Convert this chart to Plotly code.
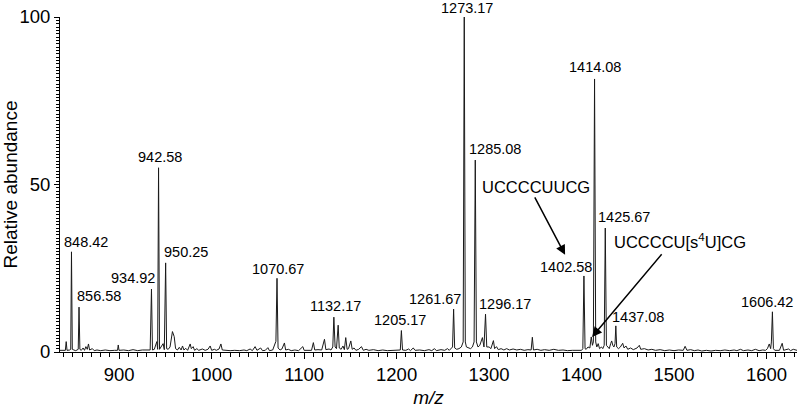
import plotly.graph_objects as go

# profile of the spectrum (m/z, relative abundance)
mz = [836, 840, 841.8, 842.7, 843.6, 846.5, 847.6, 848.42, 849.3, 851, 853, 855.7, 856.58, 857.5, 859,
      861, 862.5, 864, 865.5, 866.8, 868, 871, 873, 876, 880, 885, 890, 895, 898.2, 899, 899.8, 905,
      910, 915, 920, 925, 930, 933.5, 934.92, 936, 938, 940.7, 941.6, 942.58, 943.6, 947.5, 948.8,
      950.25, 951.3, 953, 955, 957.6, 959.5, 961, 963, 965, 967, 968.5, 970, 972, 974, 976.8, 978,
      980, 981.5, 984, 986, 990, 993, 996, 998.4, 1000, 1003, 1005, 1008, 1010, 1011.5, 1015, 1020,
      1025, 1030, 1035, 1038, 1041.6, 1044, 1047, 1049, 1053, 1055, 1058, 1060.8, 1062.5, 1066,
      1069.5, 1070.67, 1071.8, 1074, 1076, 1078.7, 1080, 1083, 1086, 1090, 1094, 1098.6, 1100, 1104,
      1108, 1110, 1111.5, 1115, 1119, 1122, 1123.5, 1127, 1129, 1131, 1132.17, 1133.5, 1135, 1136.8,
      1138, 1140, 1142, 1143.5, 1145, 1146.5, 1148, 1150.5, 1152, 1154, 1156, 1159, 1162, 1164, 1167,
      1170, 1175, 1180, 1185, 1190, 1195, 1200, 1204, 1205.17, 1206.4, 1210, 1213, 1215, 1218, 1220,
      1225, 1230, 1235, 1238, 1241, 1243, 1248, 1252, 1255, 1257, 1260.5, 1261.67, 1262.8, 1265,
      1267.5, 1270, 1272, 1273.17, 1274.3, 1275.5, 1278, 1280, 1282, 1283.8, 1285.08, 1286.3, 1288,
      1290, 1292.8, 1294.5, 1296.17, 1297.5, 1300, 1302, 1304.7, 1306, 1308, 1310, 1313, 1316, 1319,
      1322, 1326, 1330, 1334, 1338, 1342, 1345.5, 1346.8, 1348, 1352, 1356, 1360, 1365, 1370, 1375,
      1380, 1385, 1390, 1395, 1400, 1401.4, 1402.58, 1403.8, 1405, 1407, 1409, 1410.5, 1411.8, 1412.8,
      1414.08, 1415.3, 1416.5, 1418, 1419.5, 1421.5, 1423, 1424.5, 1425.67, 1426.9, 1428.5, 1430,
      1431.5, 1432.6, 1433.8, 1435, 1436.2, 1437.08, 1438, 1440, 1442, 1444.5, 1446, 1448, 1450, 1453,
      1456, 1460, 1462.5, 1464, 1468, 1472, 1476, 1480, 1485, 1490, 1495, 1500, 1505, 1510, 1512,
      1514, 1518, 1522, 1526, 1530, 1535, 1540, 1545, 1550, 1555, 1560, 1565, 1568, 1572, 1575, 1580,
      1584, 1588, 1592, 1596, 1599, 1601, 1603, 1604.5, 1605.3, 1606.42, 1607.5, 1609, 1612, 1614,
      1617, 1618.5, 1621, 1624, 1626, 1629, 1633]
abundance = [0.5, 0.6, 0.5, 3.1, 0.5, 0.6, 0.8, 29.9, 0.8, 0.6, 0.4, 0.8, 13.4, 0.8, 0.5,
             1.2, 0.5, 1.6, 0.8, 2.4, 0.6, 1.0, 0.4, 0.6, 0.4, 0.6, 0.4, 0.5, 0.5, 2.1, 0.5, 0.6,
             0.4, 0.7, 0.4, 0.6, 0.5, 0.6, 18.8, 0.6, 0.8, 3.1, 0.8, 55, 0.8, 2.5, 0.7,
             26.6, 1.0, 0.8, 1.5, 6.1, 4.6, 1.0, 0.6, 1.4, 0.6, 1.8, 0.6, 1.1, 0.5, 2.4, 1.0,
             1.6, 0.5, 1.0, 0.5, 0.9, 0.5, 0.8, 1.8, 0.5, 0.8, 0.5, 0.9, 2.4, 0.6, 0.5, 0.4,
             0.5, 0.4, 0.6, 0.4, 0.9, 0.4, 1.6, 0.5, 1.2, 0.4, 0.5, 1.3, 0.4, 0.6,
             3.2, 22, 1.2, 0.6, 0.9, 2.7, 0.6, 0.8, 0.4, 0.6, 0.4, 1.6, 0.5, 0.6,
             0.5, 2.8, 0.6, 0.7, 0.6, 3.8, 0.7, 0.9, 0.6, 1.5, 10.4, 1.5, 1.0, 8.0,
             1.2, 0.8, 1.8, 0.7, 4.3, 0.8, 1.0, 3.3, 0.8, 1.2, 0.5, 0.8, 1.6, 0.5, 0.8,
             0.5, 0.7, 0.4, 0.6, 0.4, 0.5, 0.4, 0.6, 6.4, 0.6, 0.5, 0.9, 0.4, 1.2, 0.5,
             0.6, 0.4, 0.7, 0.4, 1.0, 0.4, 0.7, 0.5, 1.0, 0.5, 1.5, 12.8, 1.2, 0.8,
             1.0, 1.5, 3.0, 100, 3.0, 1.5, 1.2, 1.0, 1.5, 3.0, 57.3, 3.0, 1.5,
             2.0, 4.3, 1.5, 11.3, 1.5, 1.5, 1.0, 3.4, 1.0, 1.6, 0.7, 1.0, 0.6, 1.0,
             0.6, 0.9, 0.6, 0.8, 0.5, 0.7, 0.6, 4.4, 0.6, 0.8, 0.5, 0.7, 0.5, 0.8, 0.5,
             0.6, 0.4, 0.5, 0.4, 0.5, 1.0, 22.7, 1.0, 0.8, 1.5, 1.2, 4.5, 2.0, 3.0,
             81.5, 3.0, 1.5, 2.5, 1.0, 1.5, 1.0, 2.0, 37, 2.0, 1.5, 1.0,
             2.5, 3.3, 2.0, 1.5, 2.5, 7.8, 1.5, 1.0, 1.5, 2.6, 1.2, 1.8, 0.8, 1.2,
             0.7, 1.2, 2.0, 0.8, 1.0, 0.6, 0.8, 0.5, 0.7, 0.4, 0.6, 0.4, 0.6, 0.5, 1.7,
             0.5, 0.7, 0.4, 0.6, 0.3, 0.5, 0.3, 0.5, 0.4, 0.6, 0.4, 0.6, 0.4, 0.8, 0.4, 0.6,
             0.4, 0.8, 0.4, 0.6, 0.5, 1.0, 2.4, 1.0, 3.0, 12, 1.0, 0.5, 0.6, 0.5,
             2.6, 0.5, 0.7, 0.9, 0.4, 0.8, 0.5]

peak_labels = ["848.42", "856.58", "934.92", "942.58", "950.25", "1070.67", "1132.17", "1205.17",
               "1261.67", "1273.17", "1285.08", "1296.17", "1402.58", "1414.08", "1425.67",
               "1437.08", "1606.42"]

FONT = "Liberation Sans, Arial, sans-serif"

fig = go.Figure(go.Scatter(x=mz, y=abundance, mode="lines",
                           line=dict(color="#1a1a1a", width=1), hoverinfo="skip"))

# where each peak label sits (m/z, abundance of the text centre)
label_pos = [(864.3, 32.8), (878.4, 16.7), (915, 22), (944.3, 58.2), (972, 30), (1072, 24.8),
             (1133.5, 13.7), (1204, 9.6), (1241.6, 15.8), (1276, 102.7), (1306.5, 60.6),
             (1317, 14.3), (1383, 25.4), (1414.6, 85), (1446, 40.3), (1461, 10.4), (1600.5, 15)]
for txt, (px, py) in zip(peak_labels, label_pos):
    # the base peak label sits above the axis range, so it goes on paper coordinates
    above = py > 100
    fig.add_annotation(x=px, y=py / 100 if above else py, yref="paper" if above else "y",
                       text=txt, showarrow=False, xanchor="center", yanchor="middle",
                       font=dict(size=14.5, color="black", family=FONT))

# sequence labels with arrows
fig.add_annotation(x=1350.8, y=49.3, text="UCCCCUUCG", showarrow=False,
                   font=dict(size=16.5, color="black", family=FONT))
fig.add_annotation(x=1382.2, y=29, ax=1348.6, ay=46.6, axref="x", ayref="y", text="",
                   showarrow=True, arrowhead=2, arrowsize=1.3, arrowwidth=1.5, arrowcolor="black")
fig.add_annotation(x=1433, y=33.1, text="UCCCCU[s<sup>4</sup>U]CG", showarrow=False, xanchor="left",
                   font=dict(size=16.5, color="black", family=FONT))
fig.add_annotation(x=1411.4, y=4.5, ax=1488, ay=29.6, axref="x", ayref="y", text="",
                   showarrow=True, arrowhead=2, arrowsize=1.3, arrowwidth=1.5, arrowcolor="black")

fig.update_layout(width=800, height=409, margin=dict(l=60, r=3, t=17, b=57, autoexpand=False),
                  plot_bgcolor="white", paper_bgcolor="white", showlegend=False,
                  font=dict(family=FONT, color="black"))
fig.update_xaxes(range=[836, 1633], showgrid=False, zeroline=False, showline=True,
                 linecolor="black", linewidth=1, ticks="outside", ticklen=6, tickcolor="black",
                 dtick=100, tick0=900, tickfont=dict(size=18.5),
                 minor=dict(dtick=10, ticklen=4, ticks="outside", tickcolor="black"),
                 title=dict(text="<i>m/z</i>", font=dict(size=19), standoff=6))
fig.update_yaxes(range=[0, 100], showgrid=False, zeroline=False, showline=True,
                 linecolor="black", linewidth=1, ticks="outside", ticklen=5, tickcolor="black",
                 tickvals=[0, 50, 100], tickfont=dict(size=18.5), ticklabeloverflow="allow",
                 minor=dict(dtick=1, ticklen=3, ticks="outside", tickcolor="black"),
                 title=dict(text="Relative abundance", font=dict(size=19), standoff=4))

# the page's default body margin would push the 800x409 figure out of the window
fig.write_html("out.html", config={"displayModeBar": False},
               post_script="document.body.style.margin = '0';")
